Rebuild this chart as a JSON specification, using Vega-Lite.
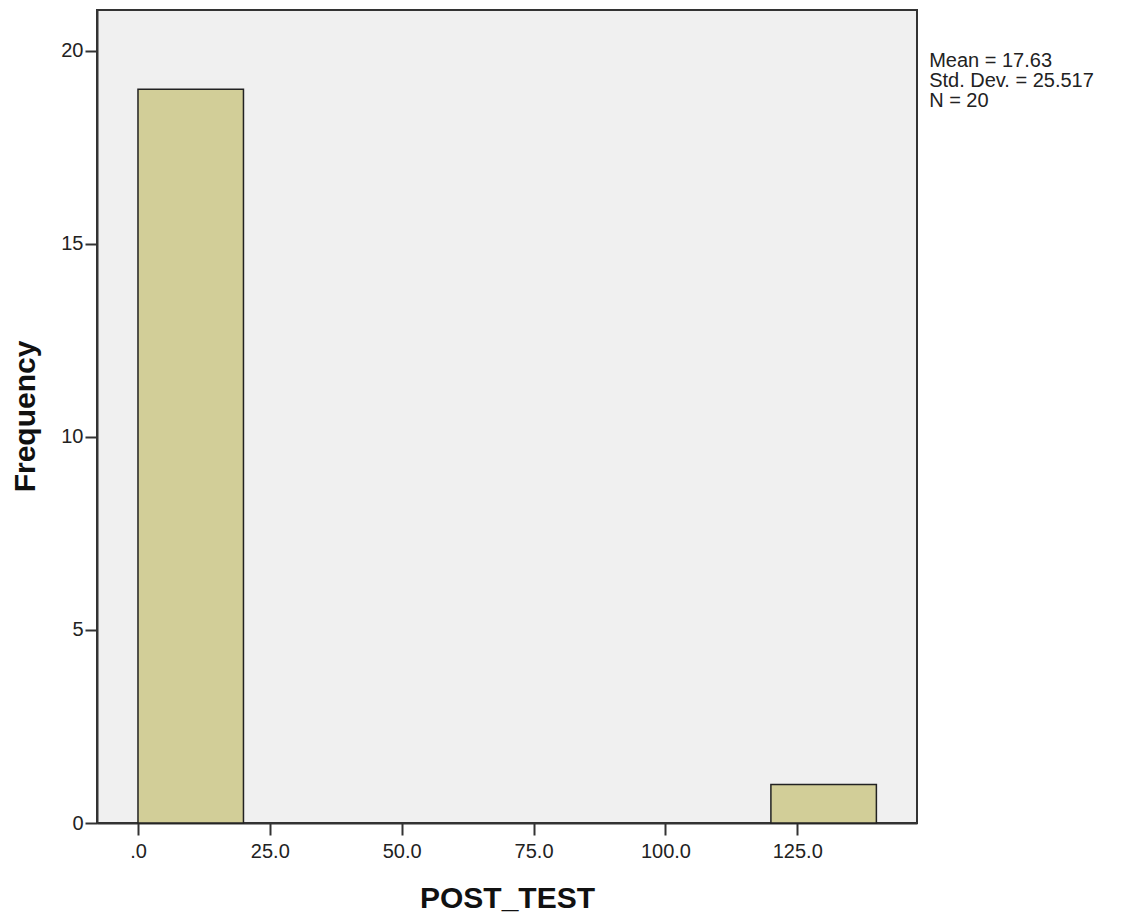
{
  "$schema": "https://vega.github.io/schema/vega-lite/v6.json",
  "width": 820,
  "height": 813,
  "autosize": {"type": "none"},
  "padding": {"left": 97, "top": 10, "right": 211, "bottom": 96},
  "background": "#ffffff",
  "config": {
    "font": "Liberation Sans",
    "view": {"fill": "#f0f0f0", "stroke": "#333333", "strokeWidth": 2},
    "axis": {
      "labelFont": "Liberation Sans",
      "labelFontSize": 20,
      "labelColor": "#222222",
      "tickColor": "#333333",
      "tickWidth": 2,
      "tickSize": 12,
      "domainColor": "#333333",
      "domainWidth": 2,
      "grid": false,
      "titleFont": "Liberation Sans",
      "titleFontWeight": "bold",
      "titleColor": "#111111"
    }
  },
  "datasets": {
    "bins": [
      {"bin_start": 0, "bin_end": 20, "count": 19},
      {"bin_start": 120, "bin_end": 140, "count": 1}
    ],
    "stats": [
      {"x": 150, "y": 20, "label": ["Mean = 17.63", "Std. Dev. = 25.517", "N = 20"]}
    ]
  },
  "layer": [
    {
      "data": {"name": "bins"},
      "mark": {"type": "rect", "fill": "#d2ce98", "stroke": "#222222", "strokeWidth": 1.5},
      "encoding": {
        "x": {
          "field": "bin_start",
          "type": "quantitative",
          "scale": {"domain": [-7.77, 147.7], "nice": false, "zero": false},
          "axis": {
            "values": [0, 25, 50, 75, 100, 125],
            "labelExpr": "datum.value == 0 ? '.0' : format(datum.value, '.1f')",
            "labelPadding": 6,
            "title": "POST_TEST",
            "titleFontSize": 30,
            "titleY": 84,
            "titleBaseline": "alphabetic"
          }
        },
        "x2": {"field": "bin_end"},
        "y": {
          "field": "count",
          "type": "quantitative",
          "scale": {"domain": [0, 21.05], "nice": false},
          "axis": {
            "values": [0, 5, 10, 15, 20],
            "labelPadding": 2,
            "title": "Frequency",
            "titleFontSize": 30,
            "titleAngle": -90,
            "titleX": -63,
            "titleY": 406,
            "titleBaseline": "alphabetic",
            "titleAlign": "center"
          }
        },
        "y2": {"datum": 0}
      }
    },
    {
      "data": {"name": "stats"},
      "mark": {"type": "text", "align": "left", "baseline": "top", "fontSize": 20, "lineHeight": 20, "color": "#222222", "clip": false},
      "encoding": {
        "x": {"field": "x", "type": "quantitative"},
        "y": {"field": "y", "type": "quantitative"},
        "text": {"field": "label"}
      }
    }
  ]
}
